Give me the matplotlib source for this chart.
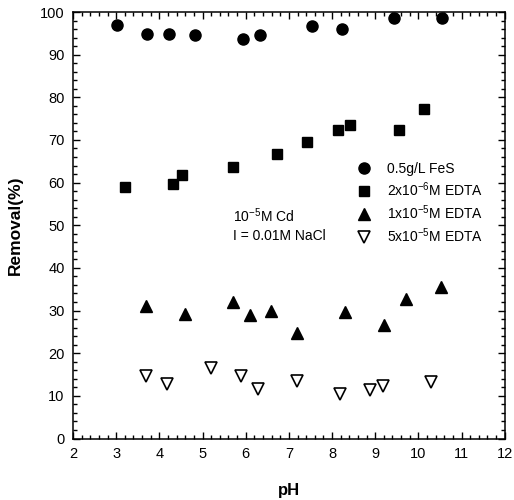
import matplotlib
matplotlib.use("Agg")
import matplotlib.pyplot as plt
from matplotlib.ticker import MultipleLocator

plt.rcParams['font.family'] = ['Liberation Sans', 'DejaVu Sans']
plt.rcParams['mathtext.fontset'] = 'custom'
plt.rcParams['mathtext.rm'] = 'Liberation Sans'
plt.rcParams['mathtext.it'] = 'Liberation Sans'

# values
ph_fes = [3.02, 3.72, 4.22, 4.83, 5.93, 6.33, 7.53, 8.24, 9.44, 10.54]
rem_fes = [97.0, 94.9, 94.9, 94.7, 93.7, 94.7, 96.7, 96.1, 98.5, 98.5]

ph_e2 = [3.21, 4.32, 4.52, 5.71, 6.73, 7.43, 8.13, 8.42, 9.54, 10.14]
rem_e2 = [58.9, 59.7, 61.8, 63.7, 66.6, 69.5, 72.4, 73.5, 72.3, 77.2]

ph_e10 = [3.69, 4.59, 5.70, 6.10, 6.58, 7.19, 8.30, 9.21, 9.71, 10.53]
rem_e10 = [31.1, 29.1, 32.0, 28.9, 29.9, 24.7, 29.7, 26.6, 32.7, 35.6]

ph_e50 = [3.69, 4.18, 5.19, 5.90, 6.29, 7.18, 8.19, 8.88, 9.18, 10.30]
rem_e50 = [14.7, 12.7, 16.5, 14.6, 11.5, 13.5, 10.4, 11.4, 12.2, 13.2]

labels = ["0.5g/L FeS", "2x10$^{-6}$M EDTA", "1x10$^{-5}$M EDTA", "5x10$^{-5}$M EDTA"]

fig = plt.figure(figsize=(5.14, 5.0), dpi=100)
ax = fig.add_axes([0.142, 0.123, 0.840, 0.853])

ax.plot(ph_fes, rem_fes, 'o', color='black', ms=8, label=labels[0])
ax.plot(ph_e2, rem_e2, 's', color='black', ms=7, label=labels[1])
ax.plot(ph_e10, rem_e10, '^', color='black', ms=8, label=labels[2])
ax.plot(ph_e50, rem_e50, 'v', color='black', mfc='white', mew=1.2, ms=8, label=labels[3])

ax.set_xlim(2, 12)
ax.set_ylim(0, 100)
ax.xaxis.set_major_locator(MultipleLocator(1))
ax.xaxis.set_minor_locator(MultipleLocator(0.2))
ax.yaxis.set_major_locator(MultipleLocator(10))
ax.yaxis.set_minor_locator(MultipleLocator(2))
ax.tick_params(which='both', direction='in', top=True, right=True, labelsize=10.5, width=1)
ax.tick_params(which='major', length=5, pad=6)
ax.tick_params(which='minor', length=3)
for s in ax.spines.values():
    s.set_linewidth(1.1)

ax.set_xlabel("pH", fontsize=12, fontweight='bold', labelpad=16)
ax.set_ylabel("Removal(%)", fontsize=12.5, fontweight='bold', labelpad=12)

ax.text(5.7, 52.2, "10$^{-5}$M Cd", fontsize=10, va='center')
ax.text(5.7, 47.5, "I = 0.01M NaCl", fontsize=10, va='center')

ax.legend(loc='upper left', bbox_to_anchor=(0.657, 0.648), frameon=False, fontsize=10,
          handlelength=1.0, handletextpad=1.2, labelspacing=0.32, borderpad=0,
          borderaxespad=0)

fig.savefig("out.png", dpi=100)
